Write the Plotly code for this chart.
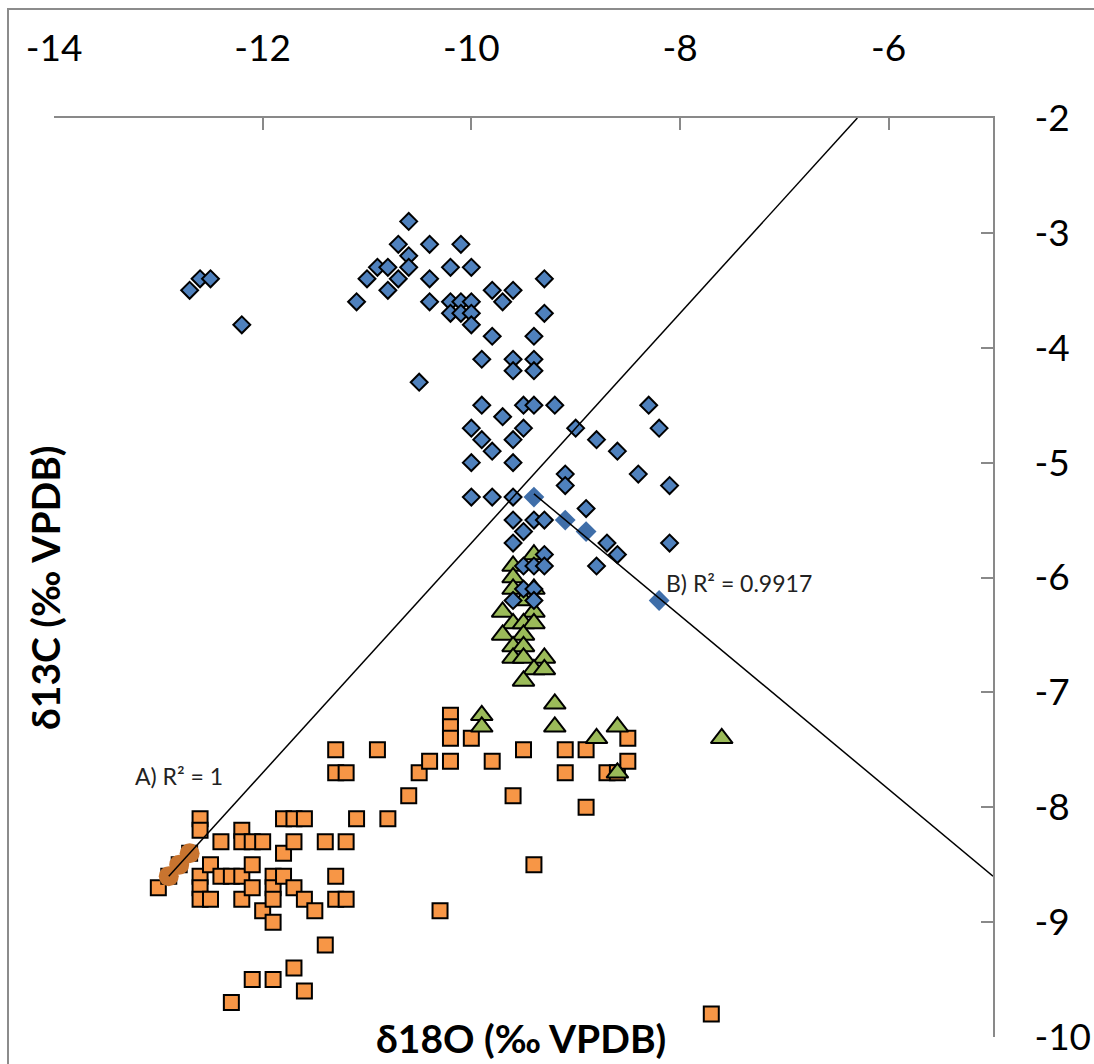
import numpy as np
import plotly.graph_objects as go

# ---------------------------------------------------------------------------
# Stable isotope data (δ18O, δ13C in ‰ VPDB)
# ---------------------------------------------------------------------------
blue_d18o = [-12.7, -12.6, -12.5, -12.2,
             -11.1, -11.0, -10.9, -10.8, -10.8,
             -10.7, -10.7, -10.6, -10.6, -10.6,
             -10.5, -10.4, -10.4, -10.4,
             -10.2, -10.2, -10.2, -10.1, -10.1, -10.1,
             -10.0, -10.0, -10.0, -10.0, -10.0, -10.0, -10.0,
             -9.9, -9.9, -9.9,
             -9.8, -9.8, -9.8, -9.8,
             -9.7, -9.7,
             -9.6, -9.6, -9.6, -9.6, -9.6, -9.6, -9.6, -9.6, -9.6,
             -9.5, -9.5, -9.5, -9.5, -9.5,
             -9.4, -9.4, -9.4, -9.4, -9.4, -9.4, -9.4, -9.4,
             -9.3, -9.3, -9.3, -9.3, -9.3,
             -9.2, -9.1, -9.1, -9.0,
             -8.9, -8.8, -8.8, -8.7, -8.6, -8.6,
             -8.4, -8.3, -8.2, -8.1, -8.1]
blue_d13c = [-3.5, -3.4, -3.4, -3.8,
             -3.6, -3.4, -3.3, -3.3, -3.5,
             -3.1, -3.4, -2.9, -3.2, -3.3,
             -4.3, -3.1, -3.4, -3.6,
             -3.3, -3.6, -3.7, -3.1, -3.6, -3.7,
             -3.3, -3.6, -3.7, -3.8, -4.7, -5.0, -5.3,
             -4.1, -4.5, -4.8,
             -3.5, -3.9, -4.9, -5.3,
             -3.6, -4.6,
             -3.5, -4.1, -4.2, -4.8, -5.0, -5.3, -5.5, -5.7, -6.2,
             -4.5, -4.7, -5.6, -5.9, -6.1,
             -3.9, -4.1, -4.2, -4.5, -5.5, -5.9, -6.1, -6.2,
             -3.4, -3.7, -5.5, -5.8, -5.9,
             -4.5, -5.1, -5.2, -4.7,
             -5.4, -4.8, -5.9, -5.7, -4.9, -5.8,
             -5.1, -4.5, -4.7, -5.2, -5.7]

# Blue subset used for regression B
blue_fit_d18o = [-9.4, -9.1, -8.9, -8.2]
blue_fit_d13c = [-5.3, -5.5, -5.6, -6.2]

green_d18o = [-9.4, -9.6, -9.6, -9.6, -9.4, -9.5, -9.7, -9.4, -9.6, -9.5, -9.4,
              -9.7, -9.5, -9.6, -9.5, -9.6, -9.5, -9.3, -9.4, -9.3, -9.5,
              -9.2, -9.9, -9.9, -9.2, -8.6, -8.8, -7.6, -8.6]
green_d13c = [-5.8, -5.9, -6.0, -6.1, -6.1, -6.2, -6.3, -6.3, -6.4, -6.4, -6.4,
              -6.5, -6.5, -6.6, -6.6, -6.7, -6.7, -6.7, -6.8, -6.8, -6.9,
              -7.1, -7.2, -7.3, -7.3, -7.3, -7.4, -7.4, -7.7]

orange_d18o = [-13.0,
               -12.9, -12.8, -12.7,
               -12.6, -12.6, -12.6, -12.6, -12.6,
               -12.5, -12.5,
               -12.4, -12.4,
               -12.3, -12.3,
               -12.2, -12.2, -12.2, -12.2,
               -12.1, -12.1, -12.1, -12.1,
               -12.0, -12.0,
               -11.9, -11.9, -11.9, -11.9, -11.9,
               -11.8, -11.8, -11.8,
               -11.7, -11.7, -11.7, -11.7,
               -11.6, -11.6, -11.6,
               -11.5,
               -11.4, -11.4,
               -11.3, -11.3, -11.3, -11.3,
               -11.2, -11.2, -11.2,
               -11.1, -10.9, -10.8, -10.6, -10.5, -10.4, -10.3,
               -10.2, -10.2, -10.2, -10.2,
               -10.0, -9.8, -9.6, -9.5, -9.4,
               -9.1, -9.1, -8.9, -8.9, -8.7, -8.6, -8.5, -8.5, -7.7]
orange_d13c = [-8.7,
               -8.6, -8.5, -8.4,
               -8.1, -8.2, -8.6, -8.7, -8.8,
               -8.5, -8.8,
               -8.3, -8.6,
               -8.6, -9.7,
               -8.2, -8.3, -8.6, -8.8,
               -8.3, -8.5, -8.7, -9.5,
               -8.3, -8.9,
               -8.6, -8.7, -8.8, -9.0, -9.5,
               -8.1, -8.4, -8.6,
               -8.1, -8.3, -8.7, -9.4,
               -8.1, -8.8, -9.6,
               -8.9,
               -8.3, -9.2,
               -7.5, -7.7, -8.6, -8.8,
               -7.7, -8.3, -8.8,
               -8.1, -7.5, -8.1, -7.9, -7.7, -7.6, -8.9,
               -7.2, -7.3, -7.4, -7.6,
               -7.4, -7.6, -7.9, -7.5, -8.5,
               -7.5, -7.7, -7.5, -8.0, -7.7, -7.7, -7.4, -7.6, -9.8]

# Orange subset used for regression A
orange_fit_d18o = [-12.9, -12.8, -12.7]
orange_fit_d13c = [-8.6, -8.5, -8.4]

x_ticks = [-14, -12, -10, -8, -6]
y_ticks = [-2, -3, -4, -5, -6, -7, -8, -9, -10]
x_range = [-14, -5]
y_range = [-10, -2]


def linear_fit(x, y):
    x = np.asarray(x, float)
    y = np.asarray(y, float)
    m, b = np.polyfit(x, y, 1)
    r2 = np.corrcoef(x, y)[0, 1] ** 2
    return m, b, r2


def r2_label(r2):
    return f"{r2:.4f}".rstrip("0").rstrip(".")


mA, bA, r2A = linear_fit(orange_fit_d18o, orange_fit_d13c)
mB, bB, r2B = linear_fit(blue_fit_d18o, blue_fit_d13c)

# trend lines run forward from the first fitted point to the plot edge
xA0 = min(orange_fit_d18o)
xA1 = min(x_range[1], (y_range[1] - bA) / mA)
xB0 = min(blue_fit_d18o)
xB1 = x_range[1]

BORDER = "#000000"
FONT = "Lato, 'Open Sans', sans-serif"

# plot-area geometry in pixels
W, H = 1094, 1064
L, R, T, B = 54, 101, 118, 27
PW, PH = W - L - R, H - T - B


def px_to_paper(px, py):
    return (px - L) / PW, (H - B - py) / PH


fig = go.Figure()

fig.add_trace(go.Scatter(
    x=orange_d18o, y=orange_d13c, mode="markers",
    marker=dict(symbol="square", size=15, color="#F79646",
                line=dict(color=BORDER, width=2)),
    showlegend=False))
fig.add_trace(go.Scatter(
    x=orange_fit_d18o, y=orange_fit_d13c, mode="markers",
    marker=dict(symbol="circle", size=20, color="#C8742F", line=dict(width=0)),
    showlegend=False))
fig.add_trace(go.Scatter(
    x=green_d18o, y=green_d13c, mode="markers",
    marker=dict(symbol="triangle-up", size=19, color="#9BBB59",
                line=dict(color=BORDER, width=2)),
    showlegend=False))
fig.add_trace(go.Scatter(
    x=blue_d18o, y=blue_d13c, mode="markers",
    marker=dict(symbol="diamond", size=13, color="#4F81BD",
                line=dict(color=BORDER, width=2)),
    showlegend=False))
fig.add_trace(go.Scatter(
    x=blue_fit_d18o, y=blue_fit_d13c, mode="markers",
    marker=dict(symbol="diamond", size=16, color="#3F6EA9", line=dict(width=0)),
    showlegend=False))

fig.add_trace(go.Scatter(
    x=[xA0, xA1], y=[mA * xA0 + bA, mA * xA1 + bA], mode="lines",
    line=dict(color="black", width=1.5), showlegend=False))
fig.add_trace(go.Scatter(
    x=[xB0, xB1], y=[mB * xB0 + bB, mB * xB1 + bB], mode="lines",
    line=dict(color="black", width=1.5), showlegend=False))

fig.add_annotation(x=-12.80, y=-7.73, xref="x", yref="y",
                   text=f"A) R² = {r2_label(r2A)}", showarrow=False,
                   xanchor="center", yanchor="middle",
                   font=dict(family=FONT, size=23, color="#222222"))
fig.add_annotation(x=-8.15, y=-6.05, xref="x", yref="y",
                   text=f"B) R² = {r2_label(r2B)}", showarrow=False,
                   xanchor="left", yanchor="middle",
                   font=dict(family=FONT, size=23, color="#222222"))

# axis titles
tx, ty = px_to_paper(521, 1038)
fig.add_annotation(x=tx, y=ty, xref="paper", yref="paper",
                   text="<b>δ18O (‰ VPDB)</b>", showarrow=False,
                   xanchor="center", yanchor="middle",
                   font=dict(family=FONT, size=39, color="black"))
tx, ty = px_to_paper(45, 588)
fig.add_annotation(x=tx, y=ty, xref="paper", yref="paper",
                   text="<b>δ13C (‰ VPDB)</b>", showarrow=False, textangle=-90,
                   xanchor="center", yanchor="middle",
                   font=dict(family=FONT, size=39, color="black"))

# chart-area frame
fx0, fy0 = px_to_paper(8, 1080)
fx1, fy1 = px_to_paper(1110, 9)
fig.add_shape(type="rect", xref="paper", yref="paper",
              x0=fx0, y0=fy0, x1=fx1, y1=fy1,
              line=dict(color="#8C8C8C", width=2), fillcolor="rgba(0,0,0,0)",
              layer="below")

axis_common = dict(showgrid=False, zeroline=False, showline=True,
                   linecolor="#898989", linewidth=2, ticks="inside",
                   tickcolor="#898989", tickwidth=1.5, ticklen=12,
                   automargin=False,
                   tickfont=dict(family=FONT, size=37, color="black"))

fig.update_xaxes(range=x_range, side="top", tickvals=x_ticks,
                 ticktext=[str(v) for v in x_ticks], ticklabelstandoff=40,
                 **axis_common)
fig.update_yaxes(range=y_range, side="right", tickvals=y_ticks,
                 ticktext=[str(v) for v in y_ticks], ticklabelstandoff=32,
                 **axis_common)

fig.update_layout(width=W, height=H,
                  margin=dict(l=L, r=R, t=T, b=B),
                  plot_bgcolor="white", paper_bgcolor="white")

fig.write_html("out.html")
